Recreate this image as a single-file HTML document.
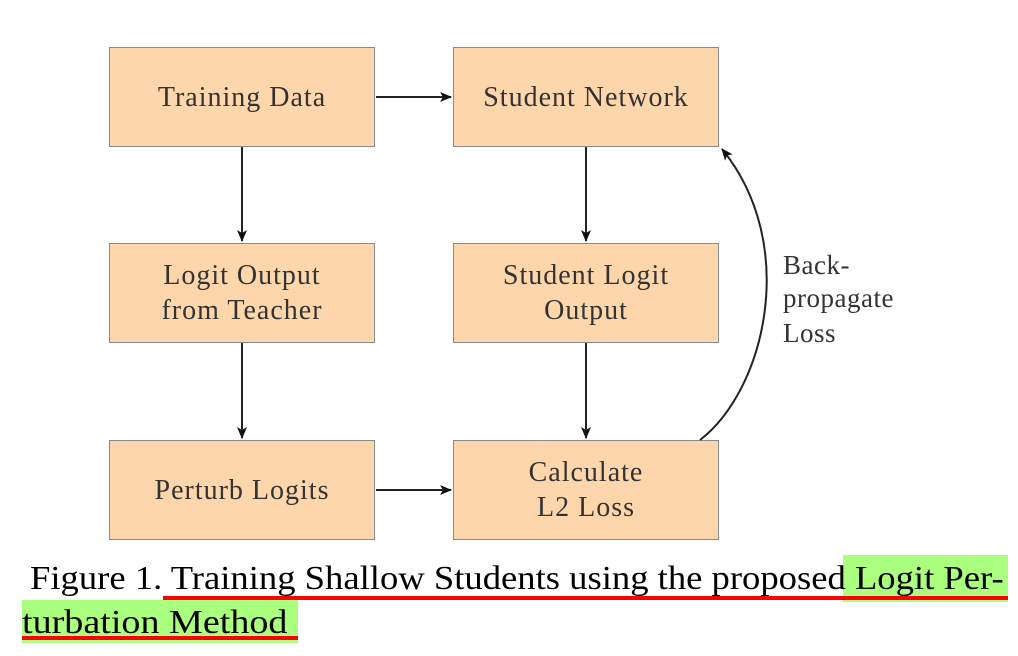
<!DOCTYPE html>
<html><head><style>
body{margin:0;width:1018px;height:656px;background:#fff;position:relative;overflow:hidden;font-family:"Liberation Serif",serif}
.b{position:absolute;width:266px;height:100px;background:#fed6ab;border:1.5px solid #8a8a8a;box-sizing:border-box;display:flex;align-items:center;justify-content:center;text-align:center;line-height:35px;color:#333;font-family:"Liberation Serif",serif;letter-spacing:1px;font-size:28px}
.cap{position:absolute;font-family:"Liberation Serif",serif;font-size:34px;color:#000;white-space:nowrap;transform-origin:0 0}
</style></head><body>
<div class="b" style="left:109px;top:47px">Training Data</div>
<div class="b" style="left:453px;top:47px">Student Network</div>
<div class="b" style="left:109px;top:243px">Logit Output<br>from Teacher</div>
<div class="b" style="left:453px;top:243px">Student Logit<br>Output</div>
<div class="b" style="left:109px;top:440px">Perturb Logits</div>
<div class="b" style="left:453px;top:440px">Calculate<br>L2 Loss</div>
<svg width="1018" height="656" style="position:absolute;left:0;top:0">
<defs><marker id="a" markerWidth="12" markerHeight="10" refX="11" refY="5" orient="auto" markerUnits="userSpaceOnUse"><path d="M0,0 L12,5 L0,10 L3,5z" fill="#111"/></marker></defs>
<g stroke="#222" stroke-width="2" fill="none">
<line x1="376" y1="97" x2="451" y2="97" marker-end="url(#a)"/>
<line x1="376" y1="490" x2="451" y2="490" marker-end="url(#a)"/>
<line x1="242" y1="147" x2="242" y2="241" marker-end="url(#a)"/>
<line x1="242" y1="343" x2="242" y2="438" marker-end="url(#a)"/>
<line x1="586" y1="147" x2="586" y2="241" marker-end="url(#a)"/>
<line x1="586" y1="343" x2="586" y2="438" marker-end="url(#a)"/>
<path d="M700,440 C765,390 800,245 722,149" marker-end="url(#a)"/>
</g>
<g font-family="Liberation Serif,serif" font-size="27" fill="#333" letter-spacing="0.5">
<text x="783" y="274">Back-</text><text x="783" y="307">propagate</text><text x="783" y="342">Loss</text>
</g>
<rect x="843" y="555" width="165" height="47" fill="#aaff7f"/>
<rect x="22" y="600" width="276" height="43" fill="#aaff7f"/>
<rect x="163" y="596" width="845" height="4" fill="#f00"/>
<rect x="22" y="636" width="276" height="4" fill="#f00"/>
</svg>
<div class="cap" style="left:30px;top:560px;transform:scaleX(1.077)">Figure 1. Training Shallow Students using the proposed Logit Per-</div>
<div class="cap" style="left:22px;top:604px;transform:scaleX(1.12)">turbation Method</div>
</body></html>
